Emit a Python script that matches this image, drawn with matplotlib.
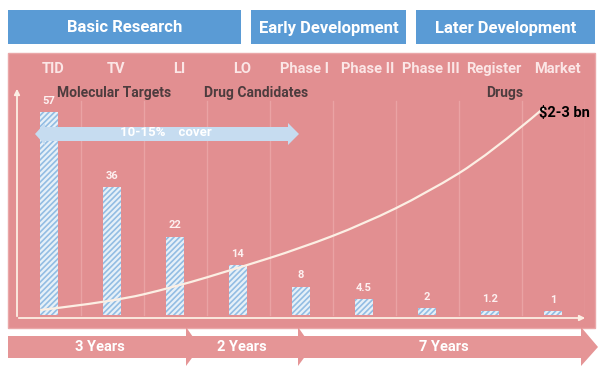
import numpy as np
import matplotlib
matplotlib.use("Agg")
import matplotlib.pyplot as plt
from matplotlib.patches import Rectangle, Polygon, PathPatch
from matplotlib.path import Path

plt.rcParams['font.family'] = ['Roboto', 'DejaVu Sans']
plt.rcParams['hatch.linewidth'] = 1.2

# data
stages = ["TID", "TV", "LI", "LO", "Phase I", "Phase II", "Phase III", "Register", "Market"]
counts = [57, 36, 22, 14, 8, 4.5, 2, 1.2, 1]
count_labels = ["57", "36", "22", "14", "8", "4.5", "2", "1.2", "1"]
phases = ["Basic Research", "Early Development", "Later Development"]
durations = ["3 Years", "2 Years", "7 Years"]
groups = ["Molecular Targets", "Drug Candidates", "Drugs"]
# cumulative cost curve (stage index, bar units)
cost_x = [-0.14, 1, 2, 3, 4, 5, 6, 7, 7.87]
cost_y = [1.4, 3.7, 7.9, 13.2, 18.8, 25.6, 34.3, 45.2, 58.4]

PINK = '#e28f91'
BLUE = '#5a9bd5'
CREAM = '#fcefe4'

W, H = 601, 376
fig = plt.figure(figsize=(W / 100, H / 100), dpi=100)
bg = fig.add_axes([0, 0, 1, 1])
bg.set_xlim(0, W)
bg.set_ylim(H, 0)
bg.axis('off')

# header boxes
for (x0, x1), name in zip([(8, 241), (251, 406), (416, 595)], phases):
    bg.add_patch(Rectangle((x0, 10), x1 - x0, 34, color=BLUE, lw=0))
    bg.text((x0 + x1) / 2, 28, name, color='white', fontsize=12,
            fontweight='bold', ha='center', va='center')

# pink panel
bg.add_patch(Rectangle((8, 53), 587, 275, facecolor=PINK, edgecolor='#eaa7a8', lw=1))

# stage labels
for i, s in enumerate(stages):
    bg.text(49 + 63 * i + 4, 69, s, color='#fbe6e6', fontsize=10.5,
            fontweight='bold', ha='center', va='center')

# group labels
for x, g in zip([114, 256, 505], groups):
    bg.text(x, 93, g, color='#4d3c3e', fontsize=10, fontweight='bold',
            ha='center', va='center')

# bottom time arrows
ARROW_PINK = '#e59596'
bg.add_patch(Rectangle((8, 336), 575, 22, color=ARROW_PINK, lw=0))
for xb, xt in [(186, 200), (298, 312), (581, 598)]:
    bg.add_patch(Polygon([(xb, 327), (xb, 366), (xt, 347)], closed=True,
                         color=ARROW_PINK, lw=0))
for x, d in zip([100, 242, 444], durations):
    bg.text(x, 347, d, color='white', fontsize=10.5, fontweight='bold',
            ha='center', va='center')

# chart axes
left, right, top, bottom = 17, 585, 88, 318
ax = fig.add_axes([left / W, 1 - bottom / H, (right - left) / W, (bottom - top) / H])
ax.set_xlim((left - 49) / 63, (right - 49) / 63)
ax.set_ylim(-(bottom - 315) / 3.56, (315 - top) / 3.56)
ax.patch.set_alpha(0)
for sp in ax.spines.values():
    sp.set_visible(False)
ax.set_xticks([])
ax.set_yticks([])

x = np.arange(len(stages))
for g in list(x[:-1] + 0.5) + [8.5]:
    ax.plot([g, g], [0, 60], color='#eaa3a4', lw=1, zorder=1)

ax.bar(x, counts, width=0.27, facecolor='#e6f0f8', edgecolor='#93bde3',
       hatch='//////', lw=0, zorder=2)
for xi, c, lab in zip(x, counts, count_labels):
    ax.annotate(lab, (xi, c), xytext=(0, 4.5), textcoords='offset points',
                ha='center', va='bottom', color='#fdf0f0', fontsize=8,
                fontweight='bold')

# smooth cost curve through the read points
pts = list(zip(cost_x, cost_y))
verts = [pts[0]]
codes = [Path.MOVETO]
for i in range(1, len(pts) - 1):
    mid = ((pts[i][0] + pts[i + 1][0]) / 2, (pts[i][1] + pts[i + 1][1]) / 2)
    verts += [pts[i], mid]
    codes += [Path.CURVE3, Path.CURVE3]
verts[-1] = pts[-1]
ax.add_patch(PathPatch(Path(verts, codes), facecolor='none', edgecolor=CREAM,
                       lw=1.6, zorder=3))

# overlay for arrows and callouts
fg = fig.add_axes([0, 0, 1, 1])
fg.set_xlim(0, W)
fg.set_ylim(H, 0)
fg.axis('off')
fg.patch.set_alpha(0)

fg.annotate('', xy=(17, 86), xytext=(17, 319),
            arrowprops=dict(arrowstyle='-|>', color=CREAM, lw=1.3, mutation_scale=8))
fg.annotate('', xy=(588, 318), xytext=(16, 318),
            arrowprops=dict(arrowstyle='-|>', color=CREAM, lw=1.3, mutation_scale=8))

fg.text(564, 113, "$2-3 bn", color='black', fontsize=10.5, fontweight='bold',
        ha='center', va='center')

# 10-15% cover double arrow
cover = '#c6dcf0'
fg.add_patch(Rectangle((45, 127), 243, 14, color=cover, lw=0))
fg.add_patch(Polygon([(45, 123), (45, 145), (35, 134)], color=cover, lw=0))
fg.add_patch(Polygon([(288, 123), (288, 145), (299, 134)], color=cover, lw=0))
fg.text(166, 133, "10-15%    cover", color='white', fontsize=9.5, fontweight='bold',
        ha='center', va='center')

fig.savefig('out.png', dpi=100)
